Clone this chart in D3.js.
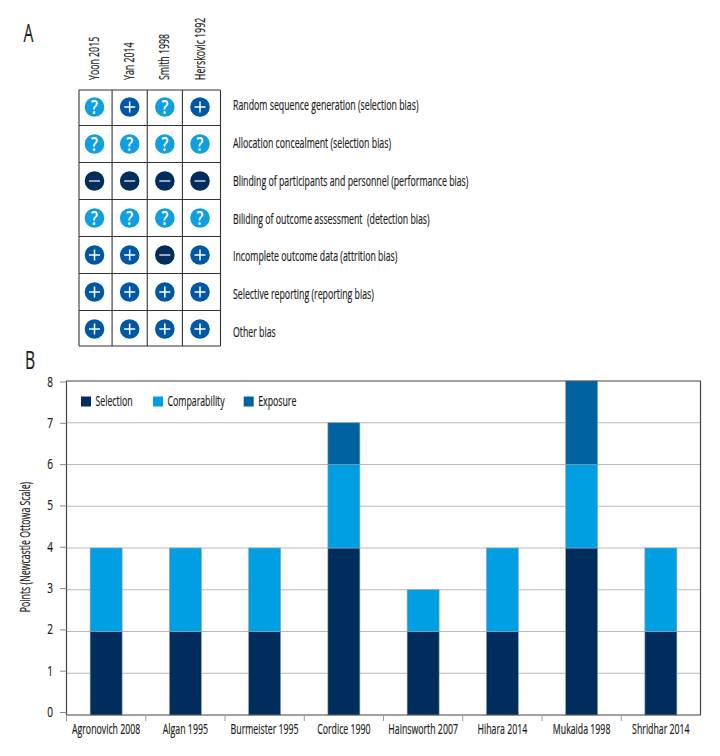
<!DOCTYPE html>
<html><head><meta charset="utf-8">
<script src="https://cdn.jsdelivr.net/npm/d3@7/dist/d3.min.js"></script>
<style>html,body{margin:0;padding:0;background:#fff}svg{display:block}
text{font-family:"Open Sans","Noto Sans",sans-serif;fill:#1c1c1c;stroke:#1c1c1c;stroke-width:0.2;white-space:pre}</style>
</head><body><svg id="c" width="720" height="756"></svg>
<script>
const domains=["Random sequence generation (selection bias)","Allocation concealment (selection bias)","Blinding of participants and personnel (performance bias)","Biliding of outcome assessment  (detection bias)","Incomplete outcome data (attrition bias)","Selective reporting (reporting bias)","Other bias"];
const trials=["Yoon 2015","Yan 2014","Smith 1998","Herskovic 1992"];
const yoon=["?","?","-","?","+","+","+"];
const yan=["+","?","-","?","+","+","+"];
const smith=["?","?","-","?","-","+","+"];
const herskovic=["+","?","-","?","+","+","+"];
const ratings=[yoon,yan,smith,herskovic];
const studies=["Agronovich 2008","Algan 1995","Burmeister 1995","Cordice 1990","Hainsworth 2007","Hihara 2014","Mukaida 1998","Shridhar 2014"];
const selection=[2,2,2,4,2,2,4,2];
const comparability=[2,2,2,2,1,2,2,2];
const exposure=[0,0,0,1,0,0,2,0];
const seriesNames=["Selection","Comparability","Exposure"];
const seriesColors=["#002d5c","#009fe3","#00629f"];
const yTicks=[0,1,2,3,4,5,6,7,8];
const ratingColor={"?":"#0f9fe0","+":"#0058a4","-":"#002d5c"};

const svg=d3.select("#c");
const K=0.627;
function label(str,x,y,size,opt={}){
  const r=opt.rot?` rotate(${opt.rot})`:"";
  return (opt.parent||svg).append("text")
    .attr("transform",`translate(${x},${y})${r} scale(${opt.k||K},1)`)
    .attr("font-size",size).attr("text-anchor",opt.anchor||"start").text(str);
}
label("A",23.5,42,25);
label("B",25,369,25);

// Panel A
const cx=d3.scalePoint().domain(trials).range([94.5,200]);
const cy=d3.scalePoint().domain(domains).range([107,329]);
const ly=d3.scalePoint().domain(domains).range([110,337]);
const gridA=svg.append("g").attr("stroke","#333").attr("stroke-width",1.1);
const gL=79,gR=220.5,gT=90,gB=346;
const stepX=cx.step(),stepY=cy.step();
[gL,...trials.slice(1).map(t=>cx(t)-stepX/2),gR].forEach(x=>gridA.append("line").attr("x1",x).attr("x2",x).attr("y1",gT).attr("y2",gB));
[gT,...domains.slice(1).map(d=>cy(d)-stepY/2),gB].forEach(y=>gridA.append("line").attr("x1",gL).attr("x2",gR).attr("y1",y).attr("y2",y));
trials.forEach(t=>label(t,cx(t)+4.5,80,14,{rot:-90}));
domains.forEach((d,i)=>{
  label(d,233,ly(d),14);
  trials.forEach((t,j)=>{
    const v=ratings[j][i],x=cx(t),y=cy(d);
    const g=svg.append("g").attr("transform",`translate(${x},${y})`);
    g.append("circle").attr("r",9.8).attr("fill",ratingColor[v]);
    if(v==="?"){
      label("?",0,6.5,19,{parent:g,anchor:"middle",k:0.8}).attr("font-weight","600").style("fill","#fff").style("stroke","none");
    }else{
      const c=v==="+"?"#fff":"#c8d3df";
      g.append("line").attr("x1",-5.5).attr("x2",5.5).attr("stroke",c).attr("stroke-width",1.5);
      if(v==="+")g.append("line").attr("y1",-5.5).attr("y2",5.5).attr("stroke",c).attr("stroke-width",1.5);
    }
  });
});

// Panel B
const L=66.5,R=700.5,T=381,B=715;
const x=d3.scaleBand().domain(studies).range([L,R]);
const y=d3.scaleLinear().domain([0,8]).range([B,T]);
const yAxisPos=d3.scaleLinear().domain([0,8]).range([712,381.5]);
const barW=32;
svg.append("g").attr("stroke","#b8b8b8").selectAll("line").data(yTicks.slice(1,8)).join("line")
  .attr("x1",L).attr("x2",R).attr("y1",d=>y(d)).attr("y2",d=>y(d));
const stack=d3.stack().keys([0,1,2]).value((d,k)=>d[k])(studies.map((s,i)=>[selection[i],comparability[i],exposure[i]]));
stack.forEach((layer,k)=>{
  svg.append("g").selectAll("rect").data(layer.filter(d=>d[1]>d[0])).join("rect")
    .attr("x",d=>x(studies[layer.indexOf(d)])+x.bandwidth()/2-barW/2)
    .attr("width",barW).attr("y",d=>y(d[1])).attr("height",d=>y(d[0])-y(d[1]))
    .attr("fill",seriesColors[k]).attr("stroke","#8fa3b5").attr("stroke-width",0.6);
});
svg.append("path").attr("d",`M${L},${B}V${T}H${R}V${B}H${L}Z`).attr("fill","none").attr("stroke","#444").attr("stroke-width",1.2);
const ya=svg.append("g").attr("transform",`translate(${L},0)`).call(d3.axisLeft(yAxisPos).tickValues(yTicks).tickFormat("").tickSize(6.5));
ya.select(".domain").remove();
ya.selectAll("line").attr("stroke","#888");
yTicks.forEach(t=>label(d3.format("d")(t),53,yAxisPos(t)+5,14,{anchor:"end",k:0.72}));
svg.append("g").attr("stroke","#999").selectAll("line").data(studies).join("line").attr("x1",d=>x(d)).attr("x2",d=>x(d)).attr("y1",B+1).attr("y2",B+6);
studies.forEach(s=>label(s,x(s)+x.bandwidth()/2,733.5,14,{anchor:"middle"}));
label("Points (Newcastle Ottowa Scale)",29.5,547,14,{rot:-90,anchor:"middle"});

// legend
const lx=d3.scaleOrdinal().domain(seriesNames).range([81,153,243.7]);
seriesNames.forEach((n,i)=>{
  svg.append("rect").attr("x",lx(n)).attr("y",396.5).attr("width",10).attr("height",10).attr("fill",seriesColors[i]);
  label(n,lx(n)+14.5,405.5,14);
});
</script></body></html>
